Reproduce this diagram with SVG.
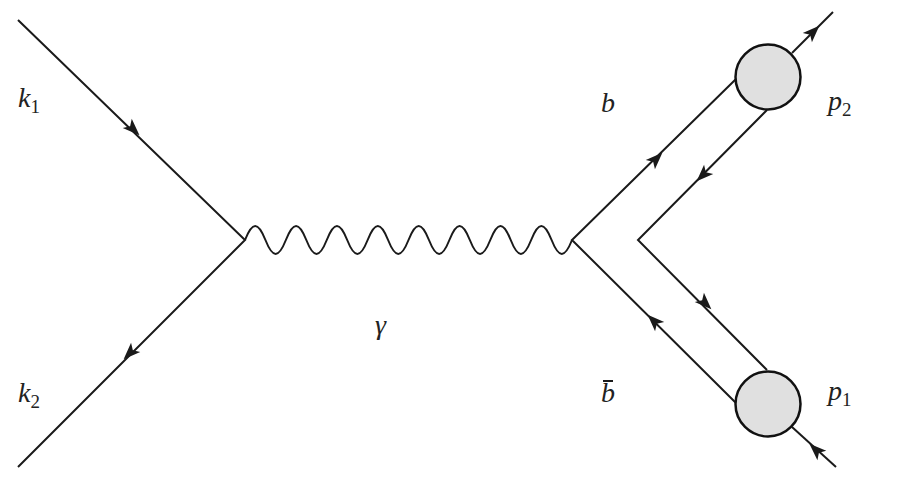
<svg xmlns="http://www.w3.org/2000/svg" xmlns:xlink="http://www.w3.org/1999/xlink" width="918" height="480" viewBox="0 0 918 480">
<style>
.l{fill:none;stroke:#1a1a1a;stroke-width:2}
.c{fill:#e0e0e0;stroke:#111;stroke-width:2.5}
.t{font-family:'Liberation Serif','Times New Roman','DejaVu Serif',serif;font-style:italic;font-size:28px;fill:#222}
.s{font-size:19px;font-style:normal}
.a{fill:#1a1a1a}
</style>
<defs><path id="ah" d="M9,0 L-8,-6.5 L-4,0 L-8,6.5 Z"/></defs>
<rect width="918" height="480" fill="#fff"/>
<g id="connectors">
<path class="l" d="M18,20 L245,240 L18,467"/>
<path class="l" d="M245,240 c7.4,-18.6 13,-18.6 20.44,0 c7.4,18.6 13,18.6 20.44,0 c7.4,-18.6 13,-18.6 20.44,0 c7.4,18.6 13,18.6 20.44,0 c7.4,-18.6 13,-18.6 20.44,0 c7.4,18.6 13,18.6 20.44,0 c7.4,-18.6 13,-18.6 20.44,0 c7.4,18.6 13,18.6 20.44,0 c7.4,-18.6 13,-18.6 20.44,0 c7.4,18.6 13,18.6 20.44,0 c7.4,-18.6 13,-18.6 20.44,0 c7.4,18.6 13,18.6 20.44,0 c7.4,-18.6 13,-18.6 20.44,0 c7.4,18.6 13,18.6 20.44,0 c7.4,-18.6 13,-18.6 20.44,0 c7.4,18.6 13,18.6 20.44,0"/>
<path class="l" d="M736,79 L572,240 L736,403"/>
<path class="l" d="M767,110 L638,240 L767,370"/>
<path class="l" d="M792,53 L833,12"/>
<path class="l" d="M792,427 L836,467"/>
<g class="a">
<use xlink:href="#ah" transform="translate(133,129) rotate(44)"/>
<use xlink:href="#ah" transform="translate(130,353) rotate(135)"/>
<use xlink:href="#ah" transform="translate(656,159) rotate(-45)"/>
<use xlink:href="#ah" transform="translate(703,175) rotate(135)"/>
<use xlink:href="#ah" transform="translate(705,303) rotate(45)"/>
<use xlink:href="#ah" transform="translate(654,321) rotate(-135)"/>
<use xlink:href="#ah" transform="translate(813,32) rotate(-45)"/>
<use xlink:href="#ah" transform="translate(816,450) rotate(-137)"/>
</g>
</g>
<g id="p2"><circle class="c" cx="768" cy="77" r="32.5"/></g>
<g id="p1"><circle class="c" cx="768" cy="404" r="32.5"/></g>
<g id="labels">
<text class="t" x="18" y="107">k<tspan class="s" dy="6">1</tspan></text>
<text class="t" x="18" y="402">k<tspan class="s" dy="6">2</tspan></text>
<text class="t" x="375" y="334">γ</text>
<text class="t" x="601" y="112">b</text>
<text class="t" x="601" y="402">b</text>
<path class="l" d="M603,381 L613,381" stroke-width="1.5"/>
<text class="t" x="828" y="110">p<tspan class="s" dy="6">2</tspan></text>
<text class="t" x="828" y="400">p<tspan class="s" dy="6">1</tspan></text>
</g>
</svg>
